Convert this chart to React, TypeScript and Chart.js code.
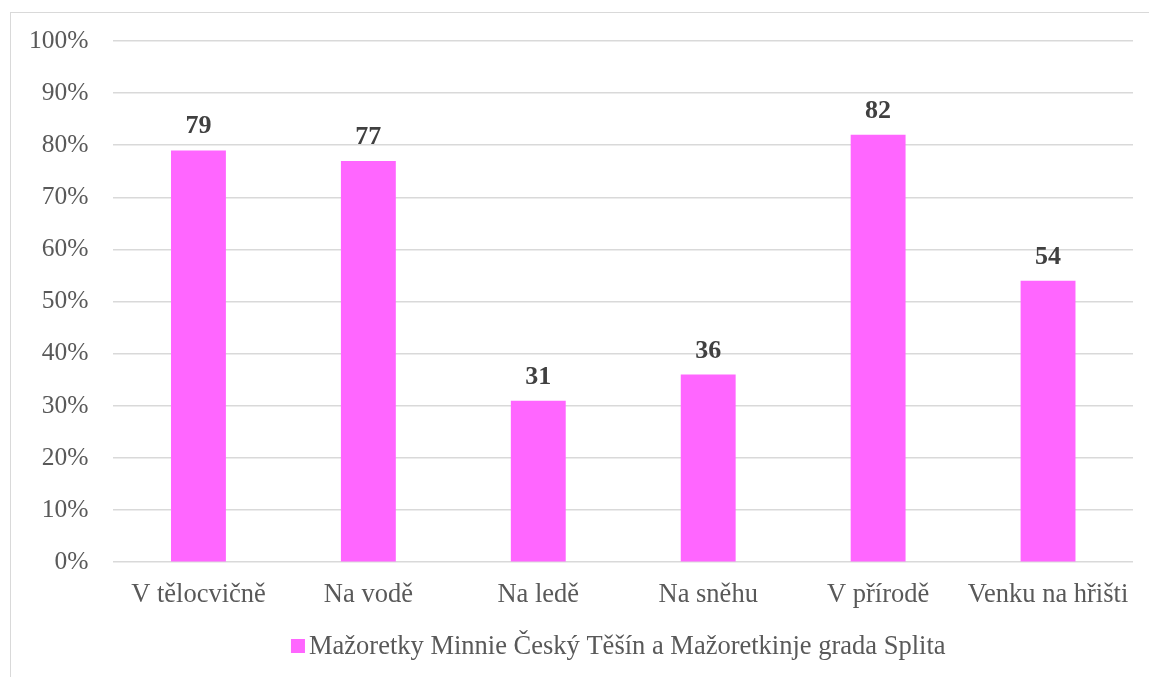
import React, { useEffect, useRef } from "react";
import { Chart, registerables } from "chart.js";

Chart.register(...registerables);

const categories = ["V tělocvičně", "Na vodě", "Na ledě", "Na sněhu", "V přírodě", "Venku na hřišti"];
const values = [79, 77, 31, 36, 82, 54];
const seriesName = "Mažoretky Minnie Český Těšín a Mažoretkinje grada Splita";
const yTicks = [0, 10, 20, 30, 40, 50, 60, 70, 80, 90, 100];

const FONT = "'Liberation Serif', 'Times New Roman', serif";
const BAR_COLOR = "#FF66FF";

const dataLabels = {
  id: "dataLabels",
  afterDatasetsDraw(chart: any) {
    const ctx = chart.ctx;
    const meta = chart.getDatasetMeta(0);
    ctx.save();
    ctx.font = `bold 26px ${FONT}`;
    ctx.fillStyle = "#404040";
    ctx.textAlign = "center";
    ctx.textBaseline = "alphabetic";
    meta.data.forEach((bar: any, i: number) => {
      ctx.fillText(String(values[i]), bar.x, bar.y - 17);
    });
    ctx.restore();
  },
};

const bottomLegend = {
  id: "bottomLegend",
  afterDraw(chart: any) {
    const ctx = chart.ctx;
    const area = chart.chartArea;
    ctx.save();
    ctx.font = `26.5px ${FONT}`;
    const label = chart.data.datasets[0].label as string;
    const tw = ctx.measureText(label).width;
    const box = 14;
    const gap = 4;
    const total = box + gap + tw;
    const cx = (area.left + area.right) / 2 - 5;
    const x0 = cx - total / 2;
    const cy = 646;
    ctx.fillStyle = chart.data.datasets[0].backgroundColor;
    ctx.fillRect(x0, cy - box / 2, box, box);
    ctx.fillStyle = "#595959";
    ctx.textAlign = "left";
    ctx.textBaseline = "middle";
    ctx.fillText(label, x0 + box + gap, cy + 1);
    ctx.restore();
  },
};

export default function App() {
  const ref = useRef<HTMLCanvasElement>(null);
  useEffect(() => {
    const chart = new Chart(ref.current!, {
      type: "bar",
      data: {
        labels: categories,
        datasets: [
          {
            label: seriesName,
            data: values,
            backgroundColor: BAR_COLOR,
            borderWidth: 0,
            categoryPercentage: 1,
            barPercentage: 0.323,
          },
        ],
      },
      options: {
        animation: false,
        responsive: false,
        maintainAspectRatio: false,
        layout: { padding: { top: 41, right: 16, left: 4, bottom: 49 } },
        plugins: {
          tooltip: { enabled: false },
          legend: { display: false },
        },
        scales: {
          x: {
            grid: { display: false, drawTicks: false },
            border: { display: false },
            ticks: {
              color: "#595959",
              font: { family: FONT, size: 26.5 },
              padding: 17,
              maxRotation: 0,
              autoSkip: false,
            },
          },
          y: {
            min: 0,
            max: 100,
            afterBuildTicks(scale: any) {
              scale.ticks = yTicks.map((v) => ({ value: v }));
            },
            grid: { color: "#d9d9d9", lineWidth: 1.5, drawTicks: false },
            border: { display: false },
            ticks: {
              color: "#595959",
              font: { family: FONT, size: 25.5 },
              padding: 25,
              callback: (v: any) => `${v}%`,
            },
          },
        },
      },
      plugins: [dataLabels, bottomLegend],
    });
    return () => chart.destroy();
  }, []);

  return (
    <div
      style={{
        position: "fixed",
        left: 0,
        top: 0,
        width: 1149,
        height: 677,
        overflow: "hidden",
        background: "#fff",
      }}
    >
      <div
        style={{
          position: "absolute",
          left: 10,
          top: 12,
          width: 1300,
          height: 800,
          borderLeft: "1.5px solid #d9d9d9",
          borderTop: "1.5px solid #d9d9d9",
        }}
      />
      <canvas ref={ref} width={1149} height={677} style={{ position: "absolute", left: 0, top: 0 }} />
    </div>
  );
}
